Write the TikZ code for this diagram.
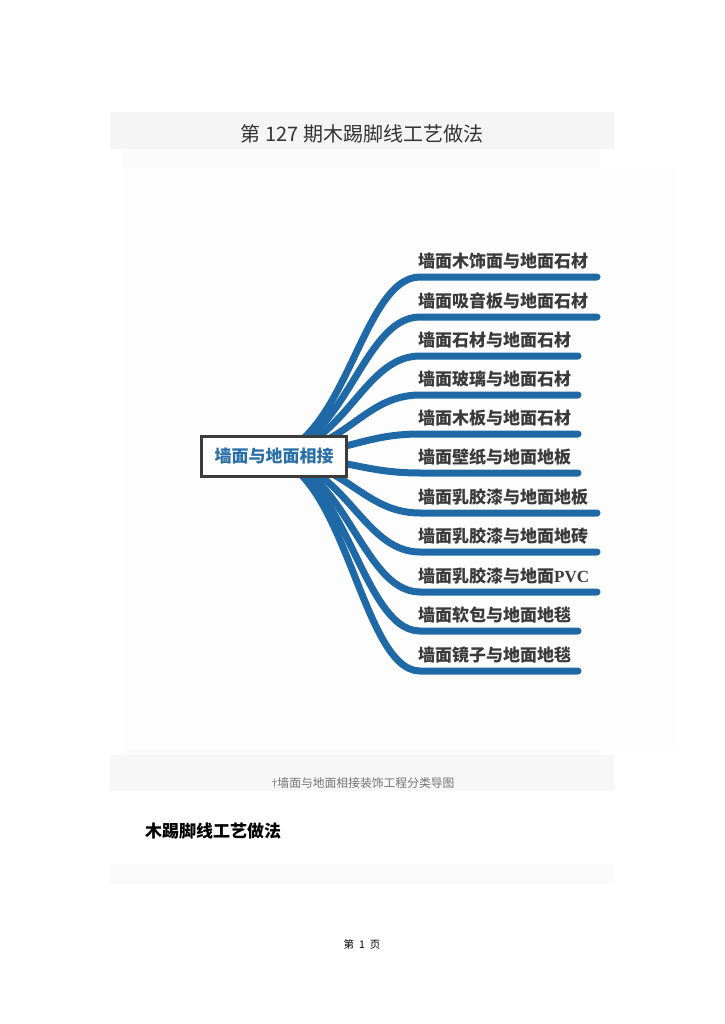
\documentclass[tikz,border=0pt]{standalone}
\usepackage{fontspec}
\newfontfamily\cjk{Noto Sans CJK SC}
\newfontfamily\latinserif{Liberation Serif}
\definecolor{branchblue}{RGB}{31,106,166}
\definecolor{rootblue}{RGB}{42,111,168}
\definecolor{boxgray}{RGB}{60,60,60}
\definecolor{labgray}{RGB}{58,58,58}
\definecolor{titlegray}{RGB}{51,51,51}
\tikzset{
  leaf/.style={anchor=base west, inner sep=0pt, text=labgray, font=\cjk\bfseries\fontsize{17}{19}\selectfont},
  branch/.style={draw=branchblue, line width=7pt, line cap=round},
  band/.style={fill=gray!#1},
}

\begin{document}
\begin{tikzpicture}[x=1pt, y=-1pt]
  \useasboundingbox (0,0) rectangle (724,1024);
  % page bands
  \fill[band=8] (110,112) rectangle (614,149);
  \fill[band=3] (123,149) rectangle (600,168);
  \fill[band=1.5] (123,168) rectangle (676,749);
  \fill[band=3] (123,749) rectangle (600,755);
  \fill[band=6] (110,755) rectangle (614,791);
  \fill[band=4] (110,864) rectangle (614,884);
  \node[anchor=base, inner sep=0pt, text=titlegray, font=\cjk\fontsize{20}{22}\selectfont] (title) at (362,141.5) {第 127 期木踢脚线工艺做法};
  % mind map
  \coordinate (hub) at (262,456);
  \foreach \i/\yy/\xe/\lab in {1/277/597/墙面木饰面与地面石材, 2/317/597/墙面吸音板与地面石材,
      3/356/578/墙面石材与地面石材, 4/395/578/墙面玻璃与地面石材, 5/434/578/墙面木板与地面石材,
      6/473/578/墙面壁纸与地面地板, 7/513/597/墙面乳胶漆与地面地板, 8/552/597/墙面乳胶漆与地面地砖,
      9/592/597/墙面乳胶漆与地面{\latinserif PVC}, 10/631/578/墙面软包与地面地毯, 11/671/578/墙面镜子与地面地毯}{
    \coordinate (end\i) at (\xe,\yy);
    \draw[branch] (hub) .. controls (345,456) and (360,\yy) .. (420,\yy) -- (end\i);
    \node[leaf] (lab\i) at (418,\yy-10) {\lab};
  }
  \node[draw=boxgray, line width=3pt, fill=white, minimum width=145pt, minimum height=40pt, text=rootblue,
    font=\cjk\bfseries\fontsize{17}{19}\selectfont] (root) at (274,456.5) {墙面与地面相接};
  % caption and text below
  \node[anchor=base, inner sep=0pt, text=gray!90!black, font=\cjk\fontsize{11.8}{13}\selectfont] (caption) at (363,787.5) {{\latinserif †}墙面与地面相接装饰工程分类导图};
  \node[anchor=base west, inner sep=0pt, font=\cjk\bfseries\fontsize{17}{19}\selectfont] (heading) at (145,837.5) {木踢脚线工艺做法};
  \node[anchor=base, inner sep=0pt, font=\cjk\fontsize{10.5}{12}\selectfont] (pagenum) at (362,948) {第\hspace{5pt}1\hspace{5pt}页};
\end{tikzpicture}
\end{document}
